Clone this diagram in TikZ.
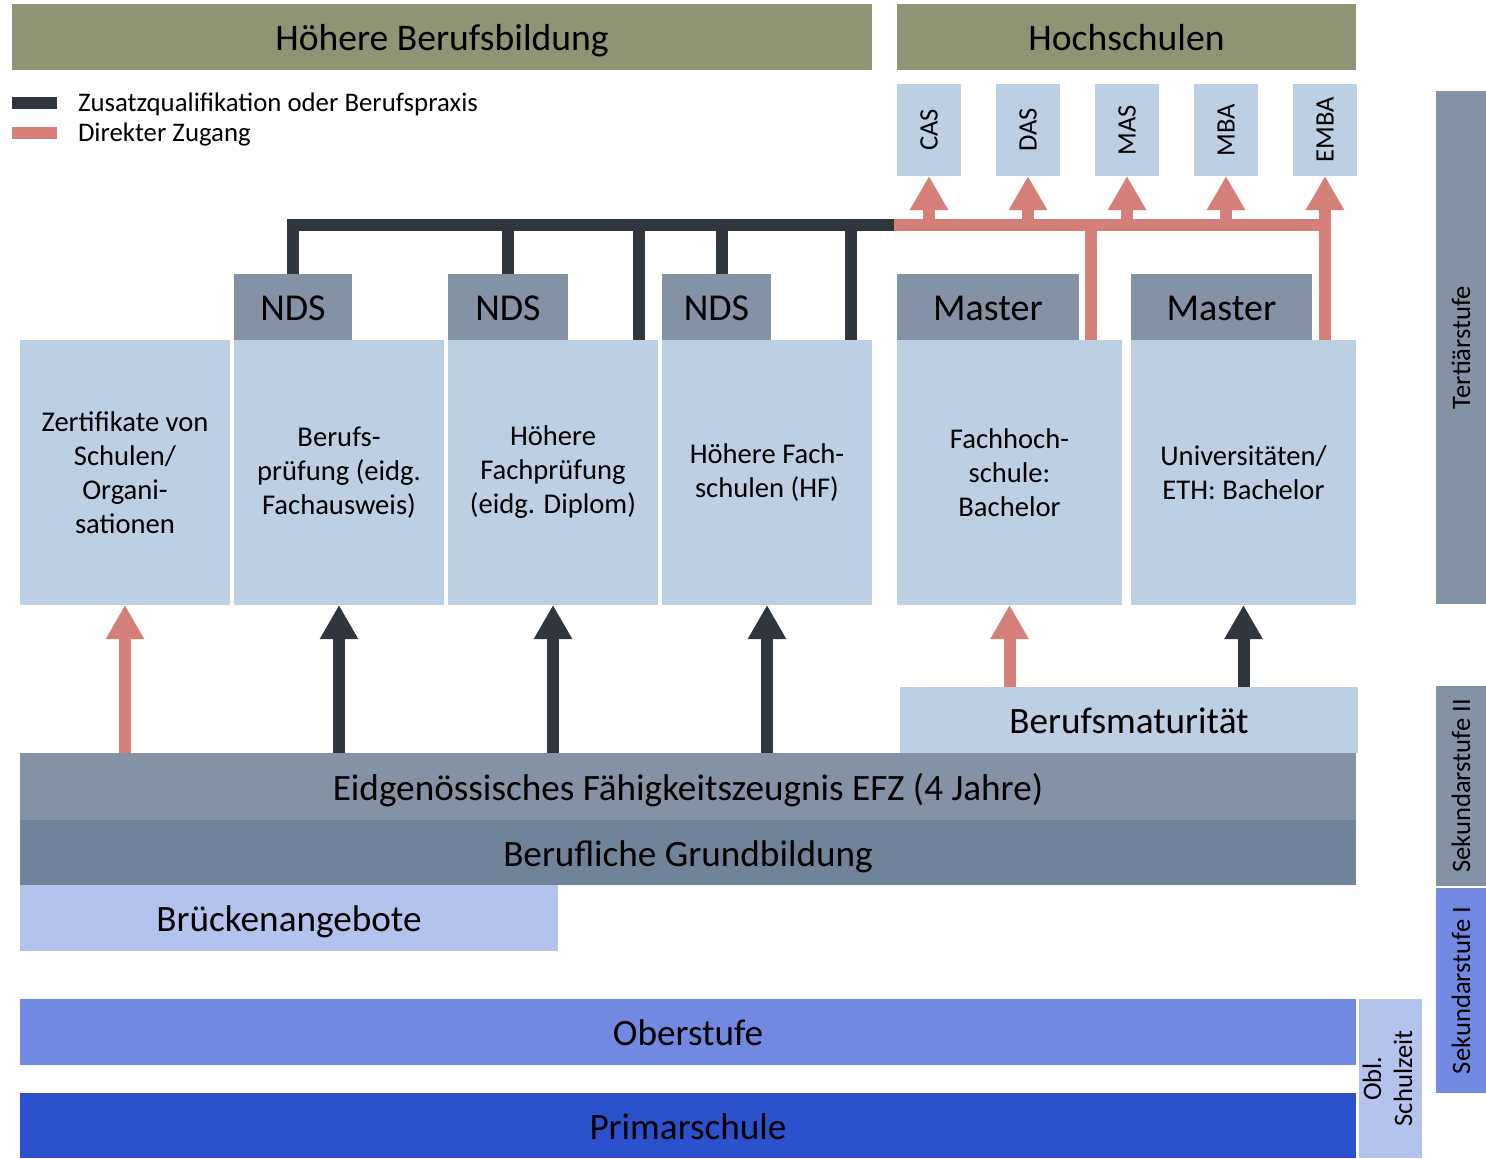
\documentclass[tikz,border=0pt]{standalone}
\usepackage{fontspec}
\setmainfont{Carlito}
\usepackage{xcolor}
\usetikzlibrary{arrows.meta,positioning}
\definecolor{olivebar}{HTML}{8F9474}
\definecolor{lightbox}{HTML}{BCCFE3}
\definecolor{greybox}{HTML}{8492A5}
\definecolor{darkgrey}{HTML}{718398}
\definecolor{paleblue}{HTML}{B4C3EE}
\definecolor{midblue}{HTML}{7189E0}
\definecolor{deepblue}{HTML}{2B52CC}
\definecolor{zcol}{HTML}{2F363E}
\definecolor{dcol}{HTML}{D47F78}

\begin{document}
\begin{tikzpicture}[x=0.5pt, y=-0.5pt,
  box/.style={fill=lightbox, align=center, inner sep=0pt, outer sep=0pt, minimum width=105pt, minimum height=132.5pt, font=\fontsize{14.3}{17}\selectfont},
  ndsbox/.style={fill=greybox, inner sep=0pt, outer sep=0pt, minimum height=33pt, text height=15pt, text depth=2pt, font=\fontsize{19}{22}\selectfont},
  topbar/.style={fill=olivebar, inner sep=0pt, outer sep=0pt, minimum height=33pt, text height=15pt, text depth=2pt, font=\fontsize{18.8}{22}\selectfont},
  band/.style={inner sep=0pt, outer sep=0pt, minimum width=668pt, minimum height=33pt, text height=14.8pt, text depth=1pt, font=\fontsize{18.6}{22}\selectfont},
  tag/.style={fill=lightbox, inner sep=0pt, outer sep=0pt, minimum width=32pt, minimum height=46pt, font=\fontsize{13.3}{15.5}\selectfont},
  stage/.style={inner sep=0pt, outer sep=0pt, minimum width=25pt, font=\fontsize{13.3}{15.5}\selectfont},
  legend/.style={inner sep=0pt, outer sep=0pt, text height=10.6pt, text depth=2pt, font=\fontsize{13.4}{15.5}\selectfont},
  swatch/.style={inner sep=0pt, outer sep=0pt, minimum width=22.5pt, minimum height=6pt},
  zarrow/.style={zcol, line width=6pt, -{Triangle[width=18pt,length=17pt]}},
  darrow/.style={dcol, line width=6pt, -{Triangle[width=18pt,length=17pt]}},
  zline/.style={zcol, line width=6pt},
  dline/.style={dcol, line width=6pt}
]
\useasboundingbox (0,0) rectangle (1486,1158);

\node[topbar, minimum width=430pt, anchor=north west] (hbb) at (12,4) {Höhere Berufsbildung};
\node[topbar, minimum width=229.5pt, anchor=north west] (hs) at (897,4) {Hochschulen};

\node[swatch, fill=zcol, anchor=west] (lgz) at (12,103) {};
\node[swatch, fill=dcol, anchor=west] (lgd) at (12,133) {};
\node[legend, right=10.5pt of lgz] (lgztext) {Zusatzqualifikation oder Berufspraxis};
\node[legend, right=10.5pt of lgd] (lgdtext) {Direkter Zugang};

\node[tag, anchor=north west] (cas) at (897,84) {\rotatebox{90}{CAS}};
\node[tag, right=17.5pt of cas] (das) {\rotatebox{90}{DAS}};
\node[tag, right=17.5pt of das] (mas) {\rotatebox{90}{MAS}};
\node[tag, right=17.5pt of mas] (mba) {\rotatebox{90}{MBA}};
\node[tag, right=17.5pt of mba] (emba) {\rotatebox{90}{EMBA}};

\node[box, anchor=north west] (zert) at (20,340) {Zertifikate von\\Schulen/\\Organi-\\sationen};
\node[box, right=2pt of zert] (bp) {Berufs-\\prüfung (eidg.\\Fachausweis)};
\node[box, right=2pt of bp] (hfp) {Höhere\\Fachprüfung\\(eidg. Diplom)};
\node[box, right=2pt of hfp] (hf) {Höhere Fach-\\schulen (HF)};
\node[box, minimum width=112.5pt, right=12.5pt of hf] (fh) {Fachhoch-\\schule:\\Bachelor};
\node[box, minimum width=112.5pt, right=4.5pt of fh] (uni) {Universitäten/\\ETH: Bachelor};

\node[ndsbox, minimum width=59pt, above right=0pt of bp.north west] (nds1) {NDS};
\node[ndsbox, minimum width=60pt, above right=0pt of hfp.north west] (nds2) {NDS};
\node[ndsbox, minimum width=54.5pt, above right=0pt of hf.north west] (nds3) {NDS};
\node[ndsbox, minimum width=91pt, above right=0pt of fh.north west] (ma1) {Master};
\node[ndsbox, minimum width=90.5pt, above right=0pt of uni.north west] (ma2) {Master};

\node[band, fill=lightbox, minimum width=229pt, anchor=north west] (bm) at (900,687) {Berufsmaturität};
\node[band, fill=greybox, minimum height=33.5pt, anchor=north west] (efz) at (20,753) {Eidgenössisches Fähigkeitszeugnis EFZ (4 Jahre)};
\node[band, fill=darkgrey, minimum height=32.5pt, below=0pt of efz] (gb) {Berufliche Grundbildung};
\node[band, fill=paleblue, minimum width=269pt, below right=0pt of gb.south west] (bru) {Brückenangebote};
\node[band, fill=midblue, anchor=north west] (ober) at (20,999) {Oberstufe};
\node[band, fill=deepblue, minimum height=32.5pt, anchor=north west] (prim) at (20,1093) {Primarschule};
\node[stage, fill=paleblue, minimum width=31.5pt, minimum height=79.5pt, anchor=north west] (obl) at (1359,999) {\rotatebox{90}{\begin{tabular}{@{}c@{}}Obl.\\Schulzeit\end{tabular}}};

\node[stage, fill=greybox, minimum height=256.5pt, anchor=north west] (tert) at (1436,91) {\rotatebox{90}{Tertiärstufe}};
\node[stage, fill=greybox, minimum height=100pt, anchor=north west] (sek2) at (1436,686) {\rotatebox{90}{Sekundarstufe II}};
\node[stage, fill=midblue, minimum height=102.5pt, below=1pt of sek2] (sek1) {\rotatebox{90}{Sekundarstufe I}};

\draw[darrow] (zert.south |- efz.north) -- (zert.south);
\draw[zarrow] (bp.south |- efz.north) -- (bp.south);
\draw[zarrow] (hfp.south |- efz.north) -- (hfp.south);
\draw[zarrow] (hf.south |- efz.north) -- (hf.south);
\draw[darrow] (fh.south |- bm.north) -- (fh.south);
\draw[zarrow] (uni.south |- bm.north) -- (uni.south);

\coordinate (split) at (894,225);
\coordinate (hfpup) at ([xshift=-9.5pt]hfp.north east);
\coordinate (nds3up) at ([xshift=2.5pt]nds3.north);
\coordinate (hfup) at ([xshift=-10.5pt]hf.north east);
\coordinate (fhup) at ([xshift=-15.5pt]fh.north east);
\draw[zline] (nds1.north) |- (split);
\draw[zline] (nds2.north) -- (nds2.north |- split);
\draw[zline] (hfpup) -- (hfpup |- split);
\draw[zline] (nds3up) -- (nds3up |- split);
\draw[zline] (hfup) -- (hfup |- split);

\draw[dline] (split) -- (emba.south |- split);
\draw[dline] (fhup) -- (fhup |- split);
\draw[darrow] (cas.south |- split) -- (cas.south);
\draw[darrow] (das.south |- split) -- (das.south);
\draw[darrow] (mas.south |- split) -- (mas.south);
\draw[darrow] (mba.south |- split) -- (mba.south);
\draw[darrow] (emba.south |- uni.north) -- (emba.south);
\end{tikzpicture}
\end{document}
